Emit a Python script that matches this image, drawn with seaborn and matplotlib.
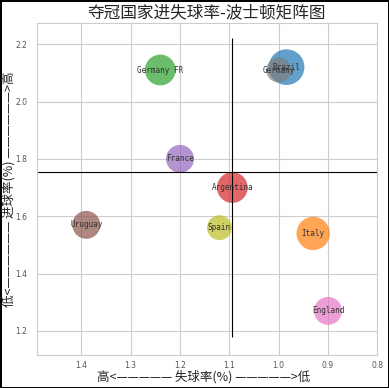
import pandas as pd
import matplotlib.pyplot as plt
import seaborn as sns

# Data
teams = ["Brazil", "Italy", "Germany FR", "Argentina", "France",
         "Uruguay", "England", "Germany", "Spain"]
lose_rate = [0.984, 0.93, 1.24, 1.094, 1.20, 1.39, 0.90, 1.00, 1.12]
goal_rate = [2.12, 1.54, 2.11, 1.70, 1.80, 1.57, 1.27, 2.11, 1.56]
titles = [5, 4, 3, 3, 2, 2, 2, 1, 1]

df = pd.DataFrame({"team": teams, "lose": lose_rate, "goal": goal_rate, "titles": titles})

sns.set_style("whitegrid")
plt.rcParams['font.family'] = ['Noto Sans CJK SC', 'DejaVu Sans']
plt.rcParams['axes.unicode_minus'] = False

fig = plt.figure(figsize=(3.89, 3.88), dpi=100, edgecolor="black", linewidth=2)
ax = fig.add_axes([0.095, 0.085, 0.875, 0.855])

sns.scatterplot(data=df, x="lose", y="goal", hue="team", size="titles",
                sizes=(320, 660), palette="tab10", alpha=0.7, linewidth=0,
                legend=False, ax=ax)

for _, row in df.iterrows():
    ax.text(row["lose"], row["goal"], row["team"], fontsize=5.5,
            ha="center", va="center", family="DejaVu Sans Mono", color="#333333")

# mean lines
ax.axhline(df["goal"].mean(), color="black", linewidth=0.8)
ax.vlines(df["lose"].mean(), df["goal"].min() - 0.09, df["goal"].max() + 0.1,
          color="black", linewidth=0.8)

ax.set_xlim(1.49, 0.8)
ax.set_ylim(1.116, 2.273)
ax.set_xticks([1.4, 1.3, 1.2, 1.1, 1.0, 0.9, 0.8])
ax.set_yticks([1.2, 1.4, 1.6, 1.8, 2.0, 2.2])
ax.tick_params(labelsize=5.5, colors="#555555", length=0)
ax.tick_params(axis="y", pad=7)
ax.tick_params(axis="x", pad=4)
for lab in ax.get_xticklabels() + ax.get_yticklabels():
    lab.set_family("DejaVu Sans")
for s in ax.spines.values():
    s.set_color("#cccccc")

ax.set_title("夺冠国家进失球率-波士顿矩阵图", fontsize=12, pad=4)
ax.set_xlabel("高<————— 失球率(%) —————>低", fontsize=9)
ax.set_ylabel("低<—————— 进球率(%) ——————>高", fontsize=9)
ax.xaxis.set_label_coords(0.49, -0.045)
ax.yaxis.set_label_coords(-0.062, 0.5)

plt.savefig("out.png", dpi=100)
